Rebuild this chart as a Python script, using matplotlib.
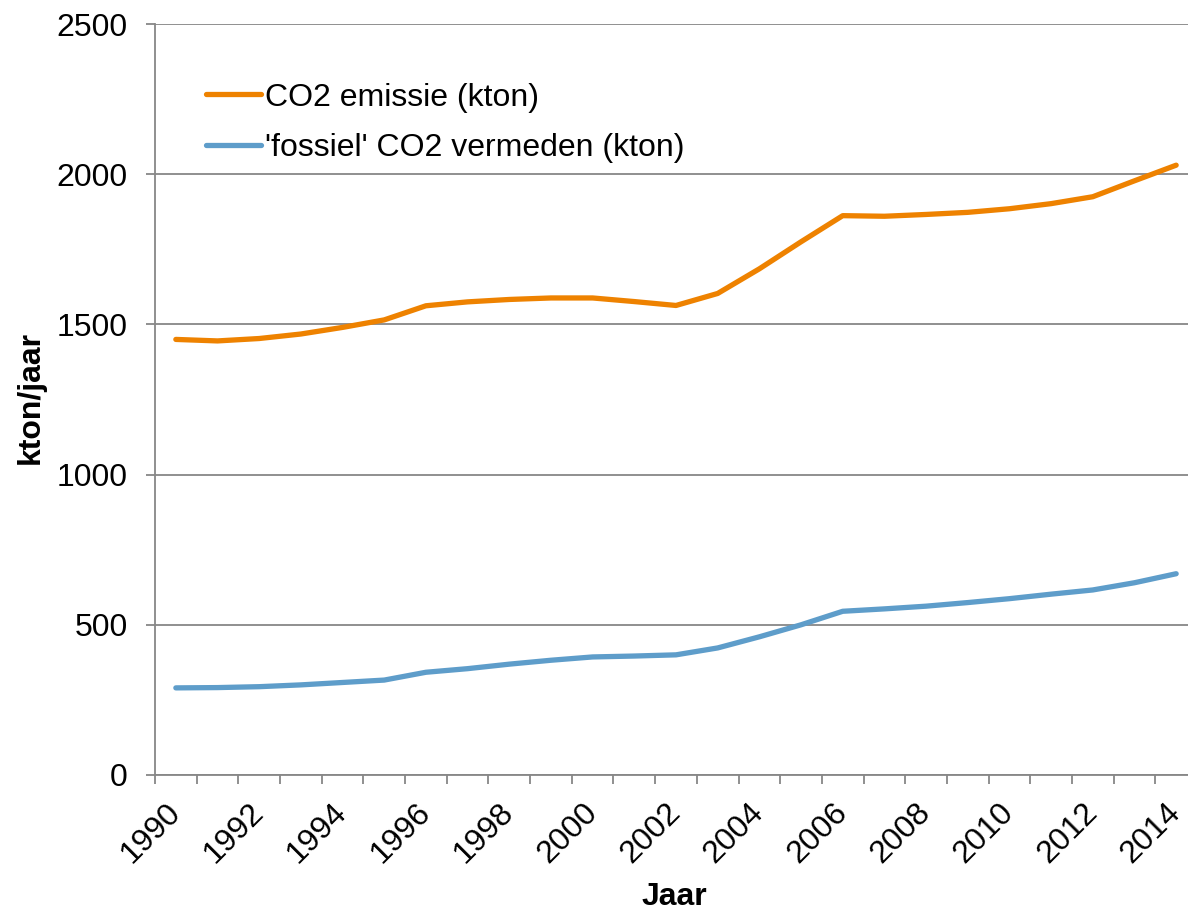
import matplotlib.pyplot as plt
import numpy as np

plt.rcParams['font.family'] = ['Liberation Sans', 'DejaVu Sans']

# Data
years = list(range(1990, 2015))
co2_emissie = [1450, 1445, 1453, 1468, 1490, 1515, 1562, 1575, 1583, 1588,
               1588, 1576, 1563, 1603, 1685, 1775, 1862, 1860, 1866, 1873,
               1885, 1902, 1925, 1978, 2030]
co2_vermeden = [290, 291, 294, 300, 308, 316, 342, 354, 369, 382,
                393, 396, 400, 423, 460, 500, 545, 553, 562, 574,
                587, 602, 616, 640, 670]
y_ticks = [0, 500, 1000, 1500, 2000, 2500]

W, H = 1188, 911
fig = plt.figure(figsize=(W / 100, H / 100), dpi=100)
# the original is cropped on the right, so the axes run past the figure edge
ax = fig.add_axes([155 / W, (H - 775) / H, (1197 - 155) / W, (775 - 24) / H])

x = np.arange(len(years))
grid_col = '#878787'
fs = 23

ax.plot(x, co2_emissie, color='#EE8200', lw=3.8, solid_capstyle='round',
        label='CO2 emissie (kton)', zorder=3)
ax.plot(x, co2_vermeden, color='#5E9DCA', lw=3.8, solid_capstyle='round',
        label="'fossiel' CO2 vermeden (kton)", zorder=3)

ax.set_xlim(-0.5, len(years) - 0.5)
ax.set_ylim(0, 2500)
ax.set_yticks(y_ticks)
ax.yaxis.grid(True, color=grid_col, lw=1.3)
ax.set_axisbelow(True)

# category labels every other year, tick marks on category boundaries
ax.set_xticks(x[::2])
ax.set_xticklabels([str(y) for y in years[::2]], rotation=45, ha='right',
                   va='center', rotation_mode='anchor')
ax.set_xticks(np.arange(-0.5, len(years)), minor=True)
ax.tick_params(axis='x', which='major', length=0, pad=24, labelsize=fs)
ax.tick_params(axis='x', which='minor', length=6.5, width=1.3, color=grid_col)
ax.tick_params(axis='y', length=6.5, width=1.3, color=grid_col, pad=13, labelsize=fs)

for s in ['top', 'right']:
    ax.spines[s].set_visible(False)
for s in ['left', 'bottom']:
    ax.spines[s].set_color(grid_col)
    ax.spines[s].set_linewidth(1.3)

fig.text(674 / W, 1 - 897 / H, 'Jaar', ha='center', va='center',
         fontsize=fs, fontweight='bold')
fig.text(31 / W, 1 - 398 / H, 'kton/jaar', ha='center', va='center',
         rotation=90, fontsize=fs, fontweight='bold')

ax.legend(loc='upper left', bbox_to_anchor=(0.037, 0.939), frameon=False,
          fontsize=fs, handlelength=1.72, handletextpad=0.12, labelspacing=0.65,
          borderaxespad=0)

fig.savefig('out.png', dpi=100)
